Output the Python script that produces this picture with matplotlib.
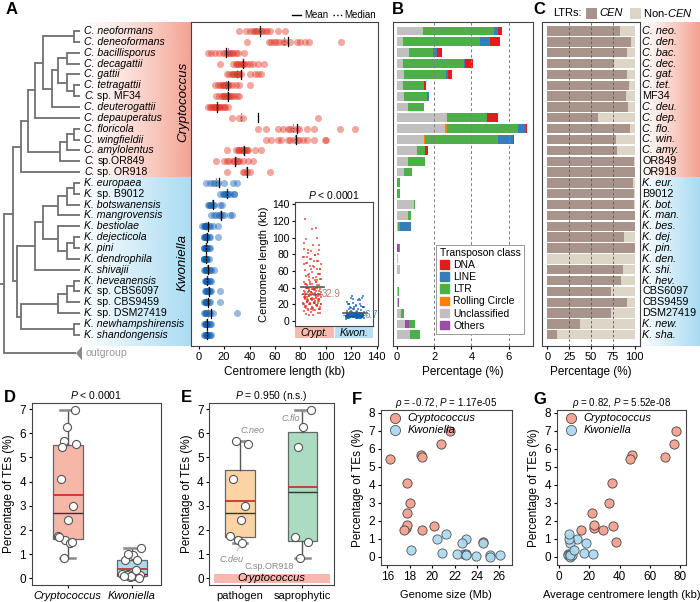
import numpy as np
import matplotlib.pyplot as plt
from matplotlib.lines import Line2D
from matplotlib.patches import Patch, Polygon, Rectangle
from matplotlib.colors import to_rgb

plt.rcParams['font.family'] = ['Liberation Sans', 'DejaVu Sans']
plt.rcParams['mathtext.fontset'] = 'custom'
plt.rcParams['mathtext.rm'] = 'Liberation Sans'
plt.rcParams['mathtext.it'] = 'Liberation Sans:italic'
plt.rcParams['font.size'] = 8
plt.rcParams['axes.linewidth'] = 0.8
plt.rcParams['axes.edgecolor'] = '#444444'
plt.rcParams['xtick.major.size'] = 2.5
plt.rcParams['ytick.major.size'] = 2.5
plt.rcParams['xtick.major.pad'] = 1.5
plt.rcParams['ytick.major.pad'] = 1.5

# ---------------- data ----------------
species = ['C. neoformans', 'C. deneoformans', 'C. bacillisporus', 'C. decagattii',
           'C. gattii', 'C. tetragattii', 'C. sp. MF34', 'C. deuterogattii',
           'C. depauperatus', 'C. floricola', 'C. wingfieldii', 'C. amylolentus',
           'C. sp.OR849', 'C. sp. OR918',
           'K. europaea', 'K. sp. B9012', 'K. botswanensis', 'K. mangrovensis',
           'K. bestiolae', 'K. dejecticola', 'K. pini', 'K. dendrophila', 'K. shivajii',
           'K. heveanensis', 'K. sp. CBS6097', 'K. sp. CBS9459', 'K. sp. DSM27419',
           'K. newhampshirensis', 'K. shandongensis']
short = ['C. neo.', 'C. den.', 'C. bac.', 'C. dec.', 'C. gat.', 'C. tet.', 'MF34', 'C. deu.',
         'C. dep.', 'C. flo.', 'C. win.', 'C. amy.', 'OR849', 'OR918',
         'K. eur.', 'B9012', 'K. bot.', 'K. man.', 'K. bes.', 'K. dej.', 'K. pin.', 'K. den.',
         'K. shi.', 'K. hev.', 'CBS6097', 'CBS9459', 'DSM27419', 'K. new.', 'K. sha.']
n_crypt = 14

# centromere lengths (kb) per species
cen_len = [
    [32, 37.5, 40, 43, 44, 45, 47, 49, 50, 52, 54, 56, 62, 68],
    [38, 55, 57, 59, 61, 63, 66, 68, 72, 77, 80, 84, 87, 112],
    [7, 10, 13, 16, 19, 21, 22, 24, 25, 26, 27, 29, 31, 36],
    [17, 27, 29, 30, 31, 32.8, 34, 35, 36, 38, 40, 43, 47, 51],
    [22, 24, 26, 27, 28, 29, 30, 31, 32, 33, 40, 44, 47, 49],
    [13, 15, 17, 18, 19, 20, 21, 22, 23, 24, 26, 29, 32, 40],
    [14, 16, 18, 19, 20, 21, 22, 23, 24, 25, 26, 28, 30, 32],
    [7, 9, 10, 11, 12, 13, 14, 15, 16, 17, 18, 20, 21, 23],
    [26, 32, 35, 94],
    [47, 53, 62, 66, 70, 72, 74, 77, 79, 85, 91, 111, 123],
    [53, 57, 62, 65, 70, 72, 75, 77, 79, 82, 85, 91, 99, 100],
    [22, 29, 31, 32, 32.8, 34, 35, 36, 37, 38, 39, 44, 49],
    [14, 20, 22, 24, 27, 28, 30, 31, 32, 35, 39, 43],
    [22, 35, 36, 38, 40, 56],
    [6, 9, 11, 13, 15, 20, 27, 30],
    [17, 19, 20, 21, 22, 23, 25, 28, 28],
    [7, 8, 9, 10, 11, 12, 17, 18],
    [10, 12, 14, 16, 17, 18, 20, 25, 26],
    [3, 4, 5, 5, 6, 6, 6, 8, 9, 11, 15],
    [4, 4.5, 5, 5.5, 6, 6, 6.5, 8, 9, 15],
    [4, 4.5, 5, 5.5, 6, 6, 6, 6.5, 8, 9],
    [4, 4, 4.5, 5, 5.5, 6, 6, 6.5, 8],
    [4, 5, 5.5, 6, 6, 6.5, 8, 9, 10, 12],
    [5, 5.5, 6, 6, 6.5, 6.5, 8, 9, 10],
    [5, 6, 6, 6.5, 7.5, 8, 9, 10, 17],
    [4, 5, 5.5, 6, 6, 6.5, 8, 9, 17],
    [4, 5, 6, 6, 8, 9, 11, 30],
    [4, 5, 5.5, 6, 6, 6.5, 8, 9, 10],
    [4, 5, 5.5, 6, 6.5, 6.7, 8, 9, 10],
]

# transposon classes (% of genome)
te_unclass = [1.42, 0.35, 0.66, 0.33, 0.37, 0.31, 0.38, 0.62, 2.70, 2.56, 1.44, 1.10, 0.58, 0.40,
              0.00, 0.00, 0.91, 0.60, 0.07, 0.00, 0.04, 0.09, 0.16, 0.01, 0.07, 0.06, 0.22, 0.44, 0.71]
te_others = [0] * 14 + [0, 0, 0, 0, 0, 0, 0.09, 0, 0, 0, 0, 0.04, 0.03, 0.20, 0]
te_rolling = [0, 0, 0, 0, 0, 0, 0, 0, 0, 0.13, 0.05, 0, 0, 0] + [0] * 15
te_ltr = [3.78, 4.11, 1.26, 3.25, 2.26, 1.15, 1.24, 0.82, 2.16, 3.80, 3.93, 0.42, 0.93, 0.40,
          0.18, 0.16, 0.05, 0.15, 0.13, 0.04, 0.04, 0, 0, 0, 0.04, 0, 0.12, 0.36, 0.55]
te_line = [0.22, 0.51, 0.24, 0.09, 0.09, 0, 0.13, 0, 0, 0.42, 0.80, 0, 0, 0.04,
           0, 0, 0, 0, 0.58, 0, 0, 0, 0, 0, 0, 0, 0, 0, 0]
te_dna = [0.24, 0.57, 0.27, 0.44, 0.26, 0.13, 0, 0.04, 0.57, 0.05, 0.04, 0.18, 0, 0] + [0] * 15

# LTRs located in centromeres (%)
ltr_cen = [82.6, 96.2, 90.9, 75.8, 91.7, 93.9, 89.8, 92.8, 57.6, 94.7, 78.0, 79.9, 99.2, 100,
           98.5, 98.9, 99.2, 100, 100, 87.9, 100, 0, 87.1, 84.5, 73.1, 91.7, 73.0, 37.5, 11.7]

# genome size (Mb)
genome_mb = [19.0, 19.1, 17.8, 17.8, 18.0, 17.7, 17.8, 17.5, 16.2, 21.6, 20.8, 20.2, 19.1, 24.5,
             20.9, 22.8, 23.0, 24.5, 22.7, 23.9, 23.0, 25.2, 22.2, 25.2, 26.1, 23.0, 18.1, 20.4, 21.2]

pathogen = ['C. neoformans', 'C. deneoformans', 'C. bacillisporus', 'C. decagattii',
            'C. gattii', 'C. tetragattii', 'C. sp. MF34', 'C. deuterogattii']

# phylogeny: (node depth, children); leaves are row indices, 'out' = outgroup
tree = (4, [
    (13, [
        (21, [
            (28, [
                (35, [
                    (43, [(74, [0, 1]),
                          (52, [(58, [(67, [2, 3]), (67, [4, (74, [5, 6])])]), 7])]),
                    8]),
                (60, [(67, [(74, [9, 10]), 11]), 12])]),
            13]),
        (17, [
            (35, [(43, [(58, [(67, [(74, [14, 15]), 16]), 17]),
                        (58, [18, (67, [(74, [19, 20]), 21])])]), 22]),
            (21, [(58, [(67, [(74, [23, 24]), 25]), 26]), (74, [27, 28])])])]),
    'out'])

# ---------------- style ----------------
red = '#e2301f'
blue = '#0c5cb4'
pink_bg = '#f4a08f'
blue_bg = '#a9dbf3'
te_cols = {'DNA': '#e41a1c', 'LINE': '#377eb8', 'LTR': '#4daf4a',
           'Rolling Circle': '#ff7f00', 'Unclassified': '#c0c0c0', 'Others': '#984ea3'}
cen_col = '#a8948a'
noncen_col = '#ddd5c6'
crypt_pt = '#f4a593'
kwon_pt = '#a9d8ef'

W, H = 700, 602
fig = plt.figure(figsize=(7, 6.02), dpi=100)


def px_axes(x0, y0, x1, y1):
    return fig.add_axes([x0 / W, 1 - y1 / H, (x1 - x0) / W, (y1 - y0) / H])


def row_lim(y0, y1):
    # rows are 10.85 px apart, row 0 at y=31 px
    return ((y1 - 31) / 10.85, (y0 - 31) / 10.85)


def gradient(ax, x0, x1, y0, y1, color, power=1.0):
    img = np.ones((2, 256, 4))
    img[..., :3] = to_rgb(color)
    img[..., 3] = np.linspace(0, 1, 256) ** power
    ax.imshow(img, extent=[x0, x1, y1, y0], aspect='auto', zorder=0, interpolation='bilinear')


rows = np.arange(len(species))

# ---------------- A: tree ----------------
axt = px_axes(0, 22, 193, 365)
gradient(axt, 80, 193, -0.83, 13.5, pink_bg, 1.3)
gradient(axt, 80, 193, 13.5, 29.03, blue_bg, 1.0)
tree_col = '#707070'


def draw(node):
    if node == 'out':
        return 29.7, 76
    if isinstance(node, int):
        return node, 80
    x, kids = node
    ys = []
    for k in kids:
        y, xk = draw(k)
        axt.plot([x, xk], [y, y], color=tree_col, lw=1.3, solid_capstyle='butt')
        ys.append(y)
    axt.plot([x, x], [min(ys), max(ys)], color=tree_col, lw=1.3, solid_capstyle='projecting')
    return (min(ys) + max(ys)) / 2, x


ry, rx = draw(tree)
axt.plot([0, rx], [ry, ry], color=tree_col, lw=1.3)
axt.add_patch(Polygon([[76, 29.7], [82, 29.05], [82, 30.35]], closed=True, color='#8a8a8a', lw=0))
axt.text(86, 29.7, 'outgroup', color='#999999', va='center', fontsize=7.6)
for r, name in zip(rows, species):
    if ' sp.' in name:
        g, rest = name.split(' ', 1)
        t = axt.text(84, r, g, style='italic', va='center', fontsize=7.6)
        axt.annotate(rest, xy=(1, 0.5), xycoords=t, xytext=(2, 0), textcoords='offset points',
                     va='center', ha='left', fontsize=7.6)
    else:
        axt.text(84, r, name, style='italic', va='center', fontsize=7.6)
axt.text(183, 6.5, 'Cryptococcus', rotation=90, style='italic', va='center', ha='center', fontsize=9.5)
axt.text(183, 21.3, 'Kwoniella', rotation=90, style='italic', va='center', ha='center', fontsize=9.5)
axt.set_xlim(0, 193)
axt.set_ylim(30.78, -0.83)
axt.axis('off')

# ---------------- A: strip plot ----------------
axa = px_axes(191, 22, 378, 346)
for r, vals in enumerate(cen_len):
    c = red if r < n_crypt else blue
    axa.scatter(vals, [r] * len(vals), s=26, color=c, alpha=0.42, lw=0, zorder=2)
    axa.plot([np.mean(vals)] * 2, [r - 0.42, r + 0.42], color='k', lw=0.9, zorder=3)
    axa.plot([np.median(vals)] * 2, [r - 0.42, r + 0.42], color='#555555', lw=0.9, ls=':', zorder=3)
axa.set_xlim(-6, 141)
axa.set_ylim(*row_lim(22, 346))
axa.set_yticks([])
axa.set_xticks(range(0, 141, 20))
axa.set_xlabel('Centromere length (kb)', fontsize=8.5, labelpad=3)
axa.legend(handles=[Line2D([], [], color='k', lw=1), Line2D([], [], color='k', lw=1, ls=':')],
           labels=['Mean', 'Median'], ncol=2, loc='lower right', bbox_to_anchor=(1.0, 1.0),
           frameon=False, fontsize=7, handlelength=0.9, handletextpad=0.3, columnspacing=0.5,
           borderpad=0.1, borderaxespad=0.1)

# inset
axi = px_axes(295, 202, 373, 326)
crypt_all = np.concatenate(cen_len[:n_crypt])
kwon_all = np.concatenate(cen_len[n_crypt:])
for i, (vals, c, tc) in enumerate([(crypt_all, red, '#c07a68'), (kwon_all, blue, '#4a90c0')]):
    jit = ((np.arange(len(vals)) * 0.6180339) % 1 - 0.5) * 0.42
    axi.scatter(i + jit, vals, s=3, color=c, alpha=0.65, lw=0, marker='s', zorder=2)
    axi.plot([i - 0.27, i + 0.27], [np.mean(vals)] * 2, color='#555555', lw=1.2, zorder=3)
    axi.plot([i - 0.27, i + 0.27], [np.median(vals)] * 2, color='#555555', lw=0.9, ls=':', zorder=3)
    axi.text(i + 0.22, np.median(vals), f'{np.median(vals):.1f}', color=tc, va='center', fontsize=7)
axi.set_xlim(-0.4, 1.42)
axi.set_ylim(-6, 143)
axi.set_xticks([])
axi.set_yticks(range(0, 141, 20))
axi.tick_params(labelsize=7.5)
axi.set_ylabel('Centromere length (kb)', fontsize=8, labelpad=2)
axi.set_title(r'$\mathit{P}$ < 0.0001', fontsize=7.5, pad=2)
for x0, x1, c, lab in [(0.0, 0.5, '#f7b8ad', 'Crypt.'), (0.51, 1.0, '#b5e0f5', 'Kwon.')]:
    axi.add_patch(Rectangle((x0, -0.1), x1 - x0, 0.095, transform=axi.transAxes,
                            color=c, clip_on=False, lw=0))
    axi.text((x0 + x1) / 2, -0.055, lab, transform=axi.transAxes, style='italic',
             ha='center', va='center', fontsize=7.5)

# ---------------- B: stacked TE bars ----------------
axb = px_axes(393, 22, 533, 346)
left = np.zeros(len(species))
for key, vals in [('Unclassified', te_unclass), ('Others', te_others),
                  ('Rolling Circle', te_rolling), ('LTR', te_ltr), ('LINE', te_line), ('DNA', te_dna)]:
    axb.barh(rows, vals, left=left, height=0.82, color=te_cols[key], lw=0, zorder=2)
    left += np.array(vals)
for xv in [2, 4, 6]:
    axb.axvline(xv, color='#808080', lw=0.7, ls=(0, (3, 2.5)), zorder=3)
axb.set_xlim(-0.2, 7.3)
axb.set_ylim(*row_lim(22, 346))
axb.set_yticks([])
axb.set_xticks([0, 2, 4, 6])
axb.set_xlabel('Percentage (%)', fontsize=8.5, labelpad=3)
order = ['DNA', 'LINE', 'LTR', 'Rolling Circle', 'Unclassified', 'Others']
leg = axb.legend(handles=[Patch(color=te_cols[k]) for k in order], labels=order,
                 title='Transposon class', loc='lower right', bbox_to_anchor=(0.975, 0.02),
                 fontsize=7.5, title_fontsize=7.5, handlelength=0.9, handleheight=0.9,
                 handletextpad=0.4, labelspacing=0.2, borderpad=0.35, fancybox=False,
                 edgecolor='#999999', framealpha=1)
leg.get_frame().set_linewidth(0.7)
leg._legend_box.align = 'left'

# ---------------- C: LTRs in CEN ----------------
axc = px_axes(542, 22, 640, 346)
cen = np.array(ltr_cen)
axc.barh(rows, cen, height=0.86, color=cen_col, lw=0, zorder=2)
axc.barh(rows, 100 - cen, left=cen, height=0.86, color=noncen_col, lw=0, zorder=2)
for xv in [25, 50, 75]:
    axc.axvline(xv, color='#555555', lw=0.6, ls=(0, (3, 2.5)), zorder=3)
axc.set_xlim(-6, 106)
axc.set_ylim(*row_lim(22, 346))
axc.set_yticks([])
axc.set_xticks([0, 25, 50, 75, 100])
axc.set_xlabel('Percentage (%)', fontsize=8.5, labelpad=3)

axcl = px_axes(640, 22, 700, 346)
gradient(axcl, 0, 1, -0.83, 13.5, pink_bg, 1.2)
gradient(axcl, 0, 1, 13.5, 29.03, blue_bg, 1.0)
for r, s in zip(rows, short):
    it = s.startswith('C. ') or s.startswith('K. ')
    axcl.text(0.04, r, s, style='italic' if it else 'normal', va='center', fontsize=7.8)
axcl.set_xlim(0, 1)
axcl.set_ylim(*row_lim(22, 346))
axcl.axis('off')

# header legend of C, laid out in figure pixels
axh = px_axes(540, 4, 700, 22)
axh.set_xlim(540, 700)
axh.set_ylim(22, 4)
axh.axis('off')
axh.text(553, 13, 'LTRs:', fontsize=8, va='center', ha='left')
axh.add_patch(Rectangle((586, 8), 11, 11, color=cen_col, lw=0))
axh.text(599, 13, 'CEN', style='italic', fontsize=8, va='center', ha='left')
axh.add_patch(Rectangle((630, 8), 11, 11, color=noncen_col, lw=0))
axh.text(643, 13, r'Non-$\mathit{CEN}$', fontsize=8, va='center', ha='left')

# ---------------- TE totals for D-G ----------------
te_total = (np.array(te_unclass) + np.array(te_others) + np.array(te_rolling) +
            np.array(te_ltr) + np.array(te_line) + np.array(te_dna))
mean_len = np.array([np.mean(v) for v in cen_len])
is_crypt = rows < n_crypt


def jitter(n, w):
    return ((np.arange(n) * 0.6180339 + 0.3) % 1 - 0.5) * w


def boxpanel(ax, groups, colors):
    bp = ax.boxplot(groups, positions=range(len(groups)), widths=0.47, patch_artist=True,
                    whis=(0, 100), showmeans=True, meanline=True, showfliers=False,
                    medianprops=dict(color='#333333', lw=1),
                    meanprops=dict(color='#d0312d', lw=1.3, ls='-'),
                    whiskerprops=dict(color='#555555', lw=1),
                    capprops=dict(color='#8a8a8a', lw=1.8))
    for p, c in zip(bp['boxes'], colors):
        p.set_facecolor(c)
        p.set_edgecolor('#666666')
        p.set_linewidth(0.9)
    pts = []
    for i, g in enumerate(groups):
        xs = i + jitter(len(g), 0.32)
        ax.scatter(xs, g, s=34, facecolor='white', edgecolor='#555555', lw=0.8, zorder=4)
        pts.append(xs)
    ax.set_ylim(-0.27, 7.25)
    ax.set_yticks(range(0, 8))
    ax.set_ylabel('Percentage of TEs (%)', fontsize=8.5, labelpad=3)
    ax.tick_params(labelsize=8.5)
    return pts


# D
axd = px_axes(31.7, 403, 160.7, 585)
boxpanel(axd, [te_total[is_crypt], te_total[~is_crypt]], ['#f6b6a8', '#a8dcf2'])
axd.set_xlim(-0.56, 1.45)
axd.set_xticks([0, 1])
axd.set_xticklabels(['Cryptococcus', 'Kwoniella'], style='italic', fontsize=8)
axd.set_title(r'$\mathit{P}$ < 0.0001', fontsize=7.5, pad=3)

# E
axe = px_axes(209.3, 403, 334, 585)
path_mask = np.array([s in pathogen for s in species[:n_crypt]])
crypt_te = te_total[:n_crypt]
g_path = crypt_te[path_mask]
g_sap = crypt_te[~path_mask]
pts = boxpanel(axe, [g_path, g_sap], ['#fcd3a3', '#a9dcc0'])
axe.set_xlim(-0.49, 1.51)
axe.set_xticks([0, 1])
axe.set_xticklabels(['pathogen', 'saprophytic'], fontsize=8)
axe.set_title(r'$\mathit{P}$ = 0.950 (n.s.)', fontsize=7.5, pad=3)
axe.add_patch(Rectangle((-0.42, -0.18), 1.86, 0.38, color='#f7b8ad', lw=0, zorder=1))
axe.text(0.5, 0.01, 'Cryptococcus', style='italic', ha='center', va='center', fontsize=8, zorder=5)
path_names = [s for s in species[:n_crypt] if s in pathogen]
sap_names = [s for s in species[:n_crypt] if s not in pathogen]
tags = {'C. neoformans': ('C.neo', (12, 8)), 'C. deuterogattii': ('C.deu', (-8, -12)),
        'C. floricola': ('C.flo', (-14, -6)), 'C. sp. OR918': ('C.sp.OR918', (-22, -6))}
for names, grp, xs in [(path_names, g_path, pts[0]), (sap_names, g_sap, pts[1])]:
    for nm, v, x in zip(names, grp, xs):
        if nm in tags:
            t, off = tags[nm]
            axe.annotate(t, (x, v), xytext=off, textcoords='offset points',
                         fontsize=6.5, color='#888888', style='normal' if 'OR' in t else 'italic',
                         ha='center', va='center', zorder=6,
                         arrowprops=dict(arrowstyle='-', color='#aaaaaa', lw=0.5, shrinkA=1, shrinkB=3))

# F and G scatter
for ax_box, xvals, xl, xt, xlab, title in [
        ((380.7, 410, 511.7, 565), np.array(genome_mb), (15.41, 27.1), range(16, 27, 2),
         'Genome size (Mb)', r'$\rho$ = -0.72, $\mathit{P}$ = 1.17e-05'),
        ((556.7, 410, 686, 565), mean_len, (-1.7, 84), range(0, 81, 20),
         'Average centromere length (kb)', r'$\rho$ = 0.82, $\mathit{P}$ = 5.52e-08')]:
    ax = px_axes(*ax_box)
    ax.scatter(xvals[is_crypt], te_total[is_crypt], s=44, facecolor=crypt_pt, edgecolor='#444444',
               lw=0.6, zorder=3, label='Cryptococcus')
    ax.scatter(xvals[~is_crypt], te_total[~is_crypt], s=44, facecolor=kwon_pt, edgecolor='#444444',
               lw=0.6, zorder=3, label='Kwoniella', alpha=0.9)
    ax.set_xlim(*xl)
    ax.set_ylim(-0.46, 8.15)
    ax.set_xticks(list(xt))
    ax.set_yticks(range(0, 9))
    ax.tick_params(labelsize=8.5)
    ax.set_xlabel(xlab, fontsize=8, labelpad=5)
    ax.set_ylabel('Percentage of TEs (%)', fontsize=8.5, labelpad=3)
    ax.set_title(title, fontsize=7, pad=3)
    ax.legend(loc='upper left', frameon=False, prop={'style': 'italic', 'size': 8},
              handletextpad=0.1, borderpad=0.1, borderaxespad=0.2, labelspacing=0.15,
              markerscale=1.1)

# panel letters
for lab, x, y in [('A', 6, 10), ('B', 392, 10), ('C', 533, 10), ('D', 4, 397),
                  ('E', 181, 397), ('F', 352, 400), ('G', 533, 400)]:
    fig.text(x / W, 1 - y / H, lab, fontsize=12, fontweight='bold', va='center', ha='left')

fig.savefig('out.png', dpi=100)
